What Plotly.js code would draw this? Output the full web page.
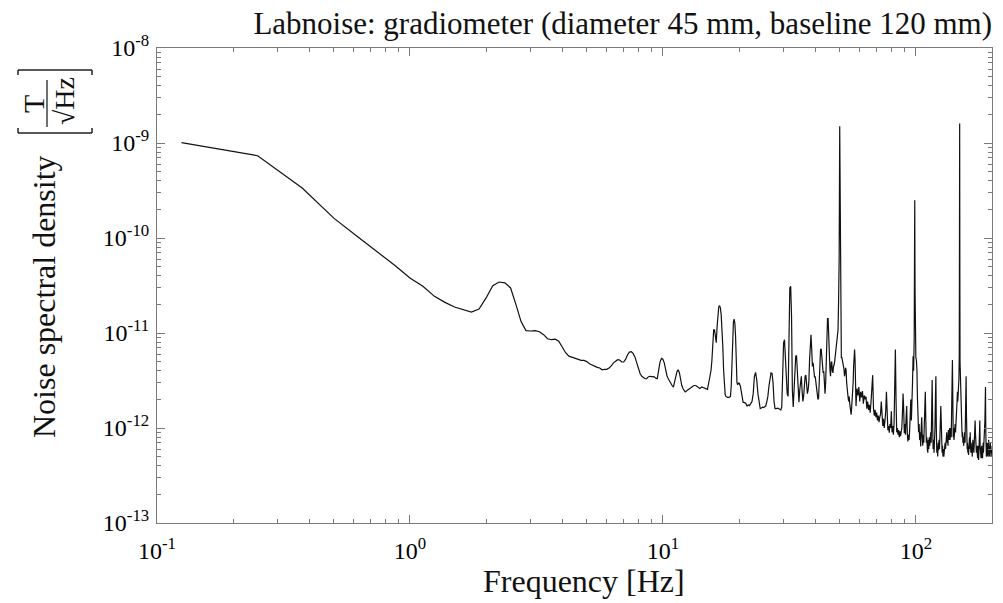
<!DOCTYPE html>
<html>
<head>
<meta charset="utf-8">
<script src="https://cdn.plot.ly/plotly-3.0.1.min.js"></script>
<style>html,body{margin:0;padding:0;background:#fff;}#chart{width:1003px;height:603px;}</style>
</head>
<body>
<div id="chart"></div>
<script>
// ---- DATA ----
const chartTitle = 'Labnoise: gradiometer (diameter 45 mm, baseline 120 mm)';
const xTitle = 'Frequency [Hz]';
const yTitle = 'Noise spectral density';
const xTickVals = [0.1, 1, 10, 100];
const xTickText = ['10<sup>-1</sup>', '10<sup>0</sup>', '10<sup>1</sup>', '10<sup>2</sup>'];
const yTickVals = [1e-13, 1e-12, 1e-11, 1e-10, 1e-9, 1e-8];
const yTickText = ['10<sup>-13</sup>', '10<sup>-12</sup>', '10<sup>-11</sup>', '10<sup>-10</sup>', '10<sup>-9</sup>', '10<sup>-8</sup>'];

// segment 1: 0.125 – 5.5 Hz
const freqLow = [0.125,0.25,0.375,0.5,0.625,0.75,0.875,1,1.125,1.25,1.375,1.5,1.625,1.75,1.875,2,2.125,2.25,2.375,2.5,2.625,2.75,2.875,3,3.125,3.25,3.375,3.5,3.625,3.75,3.875,4,4.125,4.25,4.375,4.5,4.625,4.75,4.875,5,5.125,5.25,5.375,5.5];
const psdLow = [1.01e-9,7.35e-10,3.36e-10,1.62e-10,1.02e-10,7.05e-11,5.1e-11,3.8e-11,3.1e-11,2.43e-11,2.1e-11,1.88e-11,1.76e-11,1.66e-11,1.79e-11,2.34e-11,3.15e-11,3.44e-11,3.37e-11,2.98e-11,1.99e-11,1.32e-11,1.06e-11,1.05e-11,1.06e-11,1.03e-11,9.6e-12,8.7e-12,8.5e-12,8.6e-12,8.2e-12,7.2e-12,6.2e-12,5.7e-12,5.55e-12,5.5e-12,5.3e-12,5.15e-12,5.15e-12,5.0e-12,4.75e-12,4.6e-12,4.45e-12,4.35e-12];

// segment 2: 5.6 – 20 Hz  [frequency, density]
const segMid = [[5.625,4.28e-12],[5.75,4.1e-12],[5.875,4.15e-12],[6,4.15e-12],[6.125,4.28e-12],[6.25,4.5e-12],[6.375,4.85e-12],[6.5,5.1e-12],[6.625,5.24e-12],[6.75,5.2e-12],[6.875,4.95e-12],[7,4.95e-12],[7.125,5.3e-12],[7.25,5.9e-12],[7.375,6.3e-12],[7.5,6.35e-12],[7.625,6.1e-12],[7.75,5.6e-12],[7.875,4.85e-12],[8,4.2e-12],[8.125,3.75e-12],[8.25,3.5e-12],[8.375,3.4e-12],[8.5,3.3e-12],[8.625,3.3e-12],[8.75,3.45e-12],[8.875,3.5e-12],[9,3.5e-12],[9.125,3.45e-12],[9.25,3.45e-12],[9.375,3.35e-12],[9.5,3.3e-12],[9.625,4.1e-12],[9.75,5.0e-12],[9.875,5.4e-12],[10,5.3e-12],[10.125,4.85e-12],[10.25,4.1e-12],[10.375,3.55e-12],[10.5,3.3e-12],[10.625,3.1e-12],[10.75,2.95e-12],[10.875,2.8e-12],[11,2.7e-12],[11.125,3.0e-12],[11.25,3.5e-12],[11.375,3.95e-12],[11.5,4.1e-12],[11.625,3.8e-12],[11.75,3.2e-12],[11.875,2.8e-12],[12,2.6e-12],[12.125,2.45e-12],[12.25,2.4e-12],[12.5,2.5e-12],[12.75,2.6e-12],[13,2.75e-12],[13.25,2.8e-12],[13.5,2.8e-12],[13.75,2.7e-12],[14,2.6e-12],[14.25,2.7e-12],[14.5,2.65e-12],[14.75,2.6e-12],[15,2.55e-12],[15.25,3.2e-12],[15.5,4.05e-12],[15.625,5.2e-12],[15.75,8.5e-12],[15.875,1.08e-11],[16,1.08e-11],[16.125,9.3e-12],[16.25,7.9e-12],[16.375,1.16e-11],[16.5,1.6e-11],[16.625,1.88e-11],[16.75,1.94e-11],[16.875,1.84e-11],[17,1.55e-11],[17.125,1.16e-11],[17.25,7.2e-12],[17.375,4.1e-12],[17.5,2.6e-12],[17.625,2.25e-12],[17.75,2.15e-12],[18,2.1e-12],[18.25,2.1e-12],[18.5,2.15e-12],[18.625,2.75e-12],[18.75,5.2e-12],[18.875,1.0e-11],[19,1.3e-11],[19.125,1.4e-11],[19.25,1.27e-11],[19.375,9.3e-12],[19.5,4.85e-12],[19.625,3.0e-12],[19.75,2.85e-12]];

// segment 3: 20 – 58 Hz
const segUpper = [[20,3.0e-12],[20.25,2.75e-12],[20.5,2.15e-12],[20.75,1.87e-12],[21,1.85e-12],[21.25,1.82e-12],[21.5,1.7e-12],[21.75,1.75e-12],[22,1.72e-12],[22.25,1.82e-12],[22.5,1.9e-12],[22.75,2.3e-12],[23,3.5e-12],[23.25,3.85e-12],[23.5,3.2e-12],[23.75,2.3e-12],[24,1.76e-12],[24.25,1.6e-12],[24.5,1.62e-12],[24.75,1.66e-12],[25,1.64e-12],[25.25,1.66e-12],[25.5,1.7e-12],[25.75,1.9e-12],[26,2.15e-12],[26.25,2.75e-12],[26.5,3.4e-12],[26.75,3.8e-12],[27,3.75e-12],[27.25,3.0e-12],[27.5,1.9e-12],[27.75,1.6e-12],[28,1.6e-12],[28.5,1.62e-12],[29,1.57e-12],[29.25,1.55e-12],[29.5,1.66e-12],[29.75,4.45e-12],[30,7.9e-12],[30.25,8.5e-12],[30.5,5.2e-12],[30.75,3.2e-12],[31,2.3e-12],[31.25,2.15e-12],[31.5,1.0e-11],[31.75,2.98e-11],[32,3.1e-11],[32.25,1.5e-11],[32.5,2.5e-12],[32.75,1.66e-12],[33,2.5e-12],[33.25,4.1e-12],[33.5,5.7e-12],[33.75,5.8e-12],[34,3.8e-12],[34.25,2.15e-12],[34.5,1.87e-12],[34.75,2.5e-12],[35,3.4e-12],[35.25,3.5e-12],[35.5,2.5e-12],[35.75,1.9e-12],[36,2.15e-12],[36.25,3.0e-12],[36.5,3.5e-12],[36.75,3.6e-12],[37,3.0e-12],[37.25,2.3e-12],[37.5,2.5e-12],[37.75,3.0e-12],[38,5.2e-12],[38.25,9.3e-12],[38.5,9.6e-12],[38.75,6.7e-12],[39,4.45e-12],[39.25,4.85e-12],[39.5,4.1e-12],[39.75,3.4e-12],[40,3.5e-12],[40.25,3.0e-12],[40.5,2.75e-12],[40.75,2.15e-12],[41,2.0e-12],[41.25,2.07e-12],[41.5,3.5e-12],[41.75,5.7e-12],[42,6.7e-12],[42.25,6.8e-12],[42.5,5.7e-12],[42.75,4.1e-12],[43,3.8e-12],[43.25,3.95e-12],[43.5,3.0e-12],[43.75,2.3e-12],[44,3.0e-12],[44.25,6.7e-12],[44.5,1.16e-11],[44.75,1.42e-11],[45,1.42e-11],[45.25,1.08e-11],[45.5,6.1e-12],[45.75,4.1e-12],[46,3.5e-12],[46.25,4.85e-12],[46.5,5.0e-12],[46.75,4.0e-12],[47,3.8e-12],[47.25,4.45e-12],[47.5,4.6e-12],[47.75,5.0e-12],[48,5.7e-12],[48.25,6.1e-12],[48.5,6.7e-12],[48.75,7.2e-12],[49,8.5e-12],[49.25,1.08e-11],[49.5,2.2e-11],[49.75,6.0e-11],[50,1.5e-9],[50.25,5.0e-11],[50.5,1.2e-11],[50.75,5.5e-12],[51,5.5e-12],[51.25,4.85e-12],[51.5,4.6e-12],[51.75,4.45e-12],[52,4.1e-12],[52.25,3.5e-12],[52.5,3.8e-12],[52.75,4.3e-12],[53,4.1e-12],[53.25,3.0e-12],[53.5,2.5e-12],[53.75,2.15e-12],[54,2.07e-12],[54.25,1.9e-12],[54.5,2.15e-12],[54.75,1.82e-12],[55,1.66e-12],[55.25,1.45e-12],[55.5,1.38e-12],[55.75,1.66e-12],[56,2.0e-12],[56.25,2.3e-12],[56.5,3.0e-12],[56.75,4.45e-12],[57,6.1e-12],[57.25,6.7e-12],[57.5,5.2e-12],[57.75,3.0e-12]];

// segment 4: 58 – 100 Hz
const segHigh = [[58,1.7e-12],[58.5,2.6e-12],[59,2.2e-12],[59.5,2.7e-12],[60,1.9e-12],[60.5,2.4e-12],[61,2.1e-12],[61.5,2.45e-12],[62,1.8e-12],[62.5,2.2e-12],[63,2.0e-12],[63.5,2.15e-12],[64,1.6e-12],[64.5,1.9e-12],[65,1.55e-12],[65.5,1.75e-12],[66,1.45e-12],[66.5,1.9e-12],[67,3.0e-12],[67.5,3.6e-12],[68,1.6e-12],[68.5,1.35e-12],[69,1.55e-12],[69.5,1.3e-12],[70,1.45e-12],[70.5,1.2e-12],[71,1.35e-12],[71.5,1.15e-12],[72,1.3e-12],[72.5,1.4e-12],[73,1.9e-12],[73.5,1.2e-12],[74,1.05e-12],[74.5,1.25e-12],[75,1.0e-12],[75.5,1.2e-12],[76,1.5e-12],[76.5,2.4e-12],[77,1.2e-12],[77.5,9.5e-13],[78,1.05e-12],[78.5,8.9e-13],[79,1.1e-12],[79.5,1.0e-12],[80,1.5e-12],[80.5,9.0e-13],[81,1.05e-12],[81.5,8.5e-13],[82,1.1e-12],[82.5,3.0e-12],[83,6.7e-12],[83.5,2.0e-12],[84,9.0e-13],[84.5,1.0e-12],[85,8.5e-13],[85.5,9.5e-13],[86,8.0e-13],[86.5,9.2e-13],[87,8.2e-13],[87.5,9.0e-13],[88,1.0e-12],[88.5,1.4e-12],[89,2.3e-12],[89.5,1.6e-12],[90,8.8e-13],[90.5,1.1e-12],[91,8.5e-13],[91.5,1.3e-12],[92,1.7e-12],[92.5,9.0e-13],[93,7.2e-13],[93.5,8.5e-13],[94,7.5e-13],[94.5,9.5e-13],[95,1.4e-12],[95.5,2.0e-12],[96,1.2e-12],[96.5,1.6e-12],[97,3.0e-12],[97.5,5.7e-12],[98,4.0e-12],[98.5,8.9e-12],[98.75,2.0e-11],[99,2.5e-10],[99.25,3.0e-11],[99.5,8.9e-12]];

// segment 5: 100 – 200 Hz
const segTop = [[100,5.5e-12],[100.5,5.2e-12],[101,4.0e-12],[101.5,2.0e-12],[102,1.5e-12],[102.5,9.0e-13],[103,1.1e-12],[103.5,7.5e-13],[104,9.0e-13],[104.5,6.4e-13],[105,1.0e-12],[105.5,1.3e-12],[106,8.0e-13],[106.5,6.5e-13],[107,8.5e-13],[107.5,7.0e-13],[108,1.1e-12],[108.5,1.5e-12],[109,2.4e-12],[109.5,1.2e-12],[110,7.0e-13],[110.5,8.0e-13],[111,6.0e-13],[111.5,5.5e-13],[112,7.5e-13],[112.5,6.0e-13],[113,8.0e-13],[113.5,6.5e-13],[114,7.5e-13],[114.5,9.0e-13],[115,7.0e-13],[115.5,1.4e-12],[116,3.2e-12],[116.5,1.2e-12],[117,6.0e-13],[117.5,7.5e-13],[118,5.5e-13],[118.5,7.0e-13],[119,1.0e-12],[119.5,2.0e-12],[120,3.5e-12],[120.5,1.0e-12],[121,5.5e-13],[121.5,6.5e-13],[122,5.0e-13],[122.5,7.0e-13],[123,5.8e-13],[123.5,7.5e-13],[124,6.0e-13],[124.5,8.0e-13],[125,1.0e-12],[125.5,1.7e-12],[126,1.2e-12],[126.5,7.0e-13],[127,5.5e-13],[127.5,6.5e-13],[128,5.0e-13],[128.5,6.0e-13],[129,5.0e-13],[129.5,6.5e-13],[130,5.5e-13],[130.5,7.0e-13],[131,6.0e-13],[131.5,8.0e-13],[132,6.5e-13],[132.5,9.0e-13],[133,7.0e-13],[133.5,8.5e-13],[134,6.5e-13],[134.5,9.5e-13],[135,7.5e-13],[135.5,8.0e-13],[136,1.0e-12],[136.5,7.5e-13],[137,9.0e-13],[137.5,1.0e-12],[138,8.0e-13],[138.5,1.3e-12],[139,2.5e-12],[139.5,5.2e-12],[140,2.0e-12],[140.5,8.0e-13],[141,1.0e-12],[141.5,7.5e-13],[142,9.0e-13],[142.5,8.0e-13],[143,1.1e-12],[143.5,9.0e-13],[144,1.3e-12],[144.5,1.8e-12],[145,1.5e-12],[145.5,1.9e-12],[146,2.4e-12],[146.5,1.9e-12],[147,2.3e-12],[147.5,2.8e-12],[148,3.2e-12],[148.5,6.0e-12],[148.75,5.0e-11],[149,1.6e-9],[149.25,4.0e-11],[149.5,5.0e-12],[150,3.0e-12],[150.5,2.2e-12],[151,1.8e-12],[151.5,1.2e-12],[152,1.0e-12],[152.5,8.0e-13],[153,9.0e-13],[153.5,7.0e-13],[154,8.0e-13],[154.5,6.5e-13],[155,7.5e-13],[155.5,7.0e-13],[156,9.0e-13],[156.5,7.0e-13],[157,1.0e-12],[157.5,1.6e-12],[158,3.5e-12],[158.5,1.4e-12],[159,8.0e-13],[159.5,6.0e-13],[160,7.0e-13],[160.5,5.5e-13],[161,6.5e-13],[161.5,5.2e-13],[162,7.0e-13],[162.5,6.0e-13],[163,8.0e-13],[163.5,6.0e-13],[164,9.0e-13],[164.5,6.5e-13],[165,5.5e-13],[165.5,7.0e-13],[166,5.5e-13],[166.5,6.5e-13],[167,5.0e-13],[167.5,6.0e-13],[168,7.5e-13],[168.5,6.0e-13],[169,7.0e-13],[169.5,5.5e-13],[170,6.5e-13],[170.5,8.0e-13],[171,9.5e-13],[171.5,1.2e-12],[172,9.0e-13],[172.5,6.0e-13],[173,7.0e-13],[173.5,5.5e-13],[174,6.5e-13],[174.5,5.0e-13],[175,6.0e-13],[175.5,4.8e-13],[176,6.5e-13],[176.5,5.0e-13],[177,4.6e-13],[177.5,5.5e-13],[178,7.0e-13],[178.5,9.0e-13],[179,1.2e-12],[179.5,6.5e-13],[180,5.0e-13],[180.5,6.0e-13],[181,4.8e-13],[181.5,5.5e-13],[182,6.5e-13],[182.5,5.0e-13],[183,6.0e-13],[183.5,4.8e-13],[184,5.5e-13],[184.5,7.0e-13],[185,5.5e-13],[185.5,6.5e-13],[186,9.0e-13],[186.5,7.0e-13],[187,9.0e-13],[187.5,1.2e-12],[188,1.8e-12],[188.5,2.7e-12],[189,9.0e-13],[189.5,6.5e-13],[190,5.0e-13],[190.5,6.0e-13],[191,5.2e-13],[191.5,7.0e-13],[192,5.5e-13],[192.5,6.5e-13],[193,5.0e-13],[193.5,6.0e-13],[194,7.5e-13],[194.5,5.5e-13],[195,6.5e-13],[195.5,5.0e-13],[196,6.4e-13],[196.5,5.5e-13],[197,7.0e-13],[197.5,5.5e-13],[198,6.5e-13],[198.5,5.0e-13],[199,6.0e-13],[199.5,5.5e-13],[200,6.0e-13]];

// ---- assemble ----
const freq = freqLow.slice();
const psd = psdLow.slice();
[segMid, segUpper, segHigh, segTop].forEach(seg => seg.forEach(p => { freq.push(p[0]); psd.push(p[1]); }));

// pixel -> paper helpers (plot area: x 157..992, y 48..523)
const L = 157, R = 992, T = 48, B = 523;
const px = x => (x - L) / (R - L);
const py = y => (B - y) / (B - T);

const serif = '"Liberation Serif", "DejaVu Serif", serif';
const frameColor = '#7a7a7a';

const axisCommon = {
  type: 'log',
  showline: true, linecolor: frameColor, linewidth: 1,
  mirror: 'allticks',
  ticks: 'inside', ticklen: 8, tickwidth: 1, tickcolor: frameColor,
  showgrid: false, zeroline: false,
  tickmode: 'array',
  tickfont: {family: serif, size: 24, color: '#000'},
  minor: {ticks: 'inside', ticklen: 4, tickwidth: 1, tickcolor: frameColor, dtick: 'D1', showgrid: false}
};

const lineShape = (x0, y0, x1, y1, w) => ({type: 'line', xref: 'paper', yref: 'paper',
  x0: px(x0), y0: py(y0), x1: px(x1), y1: py(y1), line: {color: '#222', width: w || 1.5}});

const layout = {
  width: 1003, height: 603,
  margin: {l: L, r: 1003 - R, t: T, b: 603 - B},
  paper_bgcolor: '#fff', plot_bgcolor: '#fff',
  showlegend: false,
  font: {family: serif, color: '#000'},
  title: {text: chartTitle, font: {family: serif, size: 31, color: '#111'},
    xref: 'paper', x: 1, xanchor: 'right', yref: 'container', y: 1 - 23 / 603, yanchor: 'middle'},
  xaxis: Object.assign({}, axisCommon, {range: [-1, Math.log10(200)], tickvals: xTickVals, ticktext: xTickText, ticklabelstandoff: 6}),
  yaxis: Object.assign({}, axisCommon, {range: [-13, -8], tickvals: yTickVals, ticktext: yTickText, ticklabelstandoff: 2}),
  annotations: [
    {text: xTitle, xref: 'paper', yref: 'paper', x: px(584), y: py(581), xanchor: 'center', yanchor: 'middle',
      showarrow: false, font: {family: serif, size: 32, color: '#111'}},
    {text: yTitle, xref: 'paper', yref: 'paper', x: px(44), y: py(297), xanchor: 'center', yanchor: 'middle',
      textangle: -90, showarrow: false, font: {family: serif, size: 32, color: '#111'}},
    {text: 'T', xref: 'paper', yref: 'paper', x: px(33), y: py(104), xanchor: 'center', yanchor: 'middle',
      textangle: -90, showarrow: false, font: {family: serif, size: 30, color: '#111'}},
    {text: '√Hz', xref: 'paper', yref: 'paper', x: px(65), y: py(101), xanchor: 'center', yanchor: 'middle',
      textangle: -90, showarrow: false, font: {family: serif, size: 28, color: '#111'}}
  ],
  shapes: [
    // lower bracket
    lineShape(18, 133, 92, 133), lineShape(18, 133, 18, 128), lineShape(92, 133, 92, 128),
    // upper bracket
    lineShape(18, 70, 92, 70), lineShape(18, 70, 18, 75), lineShape(92, 70, 92, 75),
    // fraction bar
    lineShape(47, 80, 47, 127, 1.3)
  ]
};

const trace = {
  x: freq, y: psd, type: 'scatter', mode: 'lines',
  line: {color: '#111', width: 1.2},
  hoverinfo: 'x+y'
};

Plotly.newPlot('chart', [trace], layout, {displayModeBar: false, staticPlot: true});
</script>
</body>
</html>
